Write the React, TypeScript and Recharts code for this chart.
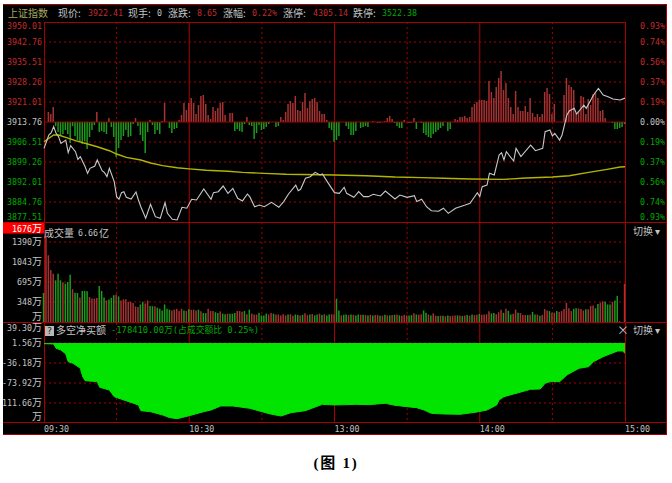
import { ComposedChart, Bar, Line, Area, Cell, XAxis, YAxis, ReferenceLine, CartesianGrid } from 'recharts';

// one trading day, in minutes from the 09:30 open (0..240)
const timeTicks = [0, 60, 120, 180, 240];
const timeLabels = ['09:30', '10:30', '13:00', '14:00', '15:00'];
const solidMinutes = [60, 120, 180];
const dottedMinutes = [30, 90, 150, 210];

const priceTicks = [3950.01, 3942.76, 3935.51, 3928.26, 3921.01, 3913.76, 3906.51, 3899.26, 3892.01, 3884.76, 3877.51];
const pctTicks = [0.93, 0.74, 0.56, 0.37, 0.19, 0, -0.19, -0.37, -0.56, -0.74, -0.93];

const priceMinutes = [0, 1, 2, 3, 4, 5, 6, 7, 9, 10, 11, 13, 14, 15, 17, 18, 19, 21, 22, 24, 25, 26, 27, 29, 30, 31, 32, 33, 34, 36, 38, 39, 40, 42, 44, 46, 48, 50, 51, 53, 55, 57, 59, 61, 63, 66, 69, 70, 72, 74, 76, 78, 80, 82, 84, 85, 87, 89, 91, 94, 97, 99, 101, 104, 105, 106, 108, 110, 112, 114, 115, 117, 120, 122, 124, 125, 128, 130, 132, 134, 136, 139, 141, 145, 147, 150, 153, 154, 156, 158, 160, 163, 165, 167, 170, 174, 176, 179, 180, 181, 183, 184, 186, 188, 189, 190, 191, 194, 195, 197, 201, 203, 206, 207, 209, 210, 211, 213, 214, 216, 217, 219, 220, 223, 224, 227, 229, 231, 233, 235, 238, 240];
const prices = [3904.2, 3906.6, 3909.05, 3909.9, 3912.1, 3909.65, 3908.45, 3906.0, 3907.2, 3902.65, 3905.2, 3903.0, 3900.2, 3901.2, 3897.55, 3895.15, 3896.95, 3897.8, 3900.0, 3896.1, 3895.4, 3893.95, 3896.95, 3892.15, 3886.7, 3885.75, 3888.15, 3888.5, 3886.45, 3885.85, 3888.4, 3885.5, 3883.05, 3878.85, 3883.9, 3879.45, 3878.85, 3884.5, 3880.65, 3878.5, 3878.25, 3882.85, 3882.5, 3885.75, 3885.5, 3889.5, 3885.75, 3888.15, 3888.5, 3890.55, 3887.9, 3889.7, 3886.1, 3885.15, 3887.65, 3886.7, 3883.05, 3883.65, 3883.05, 3884.65, 3882.85, 3884.9, 3887.65, 3890.9, 3888.85, 3889.35, 3893.35, 3893.95, 3895.5, 3894.55, 3894.9, 3892.15, 3888.15, 3887.9, 3890.1, 3887.9, 3886.45, 3888.5, 3886.7, 3886.7, 3887.55, 3886.95, 3888.75, 3885.85, 3887.3, 3886.45, 3887.05, 3884.9, 3885.75, 3883.05, 3881.6, 3881.4, 3882.5, 3880.65, 3882.5, 3883.65, 3884.3, 3888.15, 3886.7, 3890.3, 3890.9, 3895.15, 3894.55, 3901.8, 3902.65, 3900.0, 3903.0, 3899.6, 3904.2, 3901.2, 3905.4, 3903.35, 3904.2, 3910.25, 3910.85, 3908.7, 3909.65, 3907.2, 3909.05, 3916.3, 3917.75, 3918.7, 3916.65, 3919.9, 3918.7, 3923.55, 3925.95, 3923.55, 3922.95, 3922.1, 3921.75, 3922.41];

const avgMinutes = [0, 4, 6, 9, 13, 18, 22, 27, 30, 34, 40, 44, 49, 55, 60, 67, 76, 82, 91, 100, 120, 133, 145, 156, 165, 176, 190, 199, 210, 217, 225, 232, 238, 240];
const avgPrices = [3906.6, 3909.05, 3909.05, 3908.2, 3907.0, 3905.8, 3904.8, 3903.35, 3902.15, 3900.95, 3900.0, 3898.9, 3897.95, 3897.2, 3896.75, 3896.25, 3895.9, 3895.5, 3895.15, 3894.8, 3894.55, 3894.3, 3893.8, 3893.6, 3893.35, 3893.1, 3892.95, 3893.45, 3893.8, 3894.3, 3895.5, 3896.5, 3897.45, 3897.55];

// red/green histogram round the zero line, one bar a minute
const momentum = [
  0, 0, 10, 8, 15, -4, -10, -13, -12, -8,
  -12, -21, -4, -14, -18, -20, -22, -19, -27, -15,
  -8, -3, 10, -10, -9, -10, -12, 4, -5, -15,
  -35, -26, -18, -14, -8, -15, -14, -2, 4, -4,
  -13, -19, -31, -10, 2, -3, -12, -8, -12, 1,
  19, 0, -6, -11, -7, -6, 2, 7, 19, 12,
  19, 24, 19, 8, 17, 26, 27, 18, 7, 3,
  15, 11, 14, 19, 20, 7, 0, 9, 9, -9,
  -7, -9, -10, -2, 5, -3, -4, -17, -11, -3,
  -8, -7, -5, -2, 0, 0, -5, -4, 5, 2,
  10, 18, 21, 19, 26, 12, 11, 20, 29, 14,
  21, 23, 24, 20, 11, 8, 8, 2, -6, -8,
  -20, -18, -14, 0, 0, -4, -7, -13, -13, -9,
  0, -6, -5, -4, -5, 0, 1, 0, -1, -1,
  0, 1, 4, 6, 3, -1, -4, -6, -6, 2,
  0, -1, -1, 4, -7, 0, -1, -11, -13, -15,
  -16, -12, -10, -8, -6, -4, 0, -9, -7, 0,
  3, 2, 5, 5, 6, 4, 5, 15, 18, 20,
  22, 22, 22, 21, 41, 30, 24, 35, 44, 51,
  32, 39, 24, 15, 8, 31, 15, 11, 11, 16,
  10, 24, 9, 5, 8, 5, 8, 30, 34, 28,
  8, 18, 0, 0, 0, 27, 44, 37, 35, 32,
  9, 11, 26, 25, 8, 23, 17, 28, 29, 24,
  11, 12, 4, 0, 0, -1, -7, -7, -6, -5,
  -2,
];

const volumeTicks = [1676, 1390, 1043, 695, 348, 0];
const volumeLabels = ['1676', '1390', '1043', '695', '348', ''];
const volumes = [
  505, 1480, 1160, 905, 840, 725, 840, 725, 690, 665,
  695, 820, 570, 510, 505, 425, 540, 540, 535, 435,
  410, 405, 415, 625, 540, 425, 375, 390, 420, 465,
  480, 445, 375, 395, 395, 350, 350, 330, 270, 260,
  305, 350, 320, 375, 280, 275, 275, 250, 230, 200,
  305, 230, 215, 200, 215, 230, 190, 230, 200, 190,
  220, 215, 215, 200, 215, 185, 155, 155, 230, 190,
  190, 170, 155, 185, 145, 135, 145, 145, 145, 155,
  190, 190, 180, 190, 135, 215, 145, 130, 130, 160,
  115, 115, 145, 130, 155, 145, 130, 130, 115, 135,
  115, 130, 135, 110, 130, 125, 115, 125, 150, 120,
  130, 140, 115, 130, 145, 120, 135, 115, 130, 135,
  130, 405, 200, 115, 125, 130, 120, 130, 125, 115,
  130, 125, 125, 120, 115, 125, 115, 120, 125, 110,
  110, 125, 115, 115, 120, 125, 130, 115, 110, 120,
  115, 115, 120, 150, 130, 125, 135, 200, 160, 130,
  115, 150, 110, 105, 110, 110, 100, 115, 105, 110,
  115, 115, 115, 105, 115, 120, 110, 130, 120, 125,
  140, 125, 130, 135, 185, 150, 155, 135, 170, 215,
  160, 230, 195, 130, 145, 215, 160, 155, 120, 120,
  120, 125, 175, 130, 130, 110, 120, 225, 200, 190,
  160, 160, 190, 175, 190, 225, 330, 240, 190, 230,
  240, 235, 225, 200, 220, 220, 280, 285, 240, 315,
  335, 360, 350, 305, 305, 350, 375, 455, 15, 0,
  665,
];
const volumeSides =
  'grrrrgggrg' + 'ggrggrgggr' + 'rrrgggrggg' + 'rgrrrrrrrr' + 'ggrrggrggg' +
  'gggrrrrrgr' + 'grrrgrggrr' + 'rggrggrggg' + 'rrrgrgrrrg' + 'gggrrgrrrr' +
  'rgrrggrgrr' + 'grggrgrggr' + 'rggrggrgrg' + 'grgrgrgrrg' + 'rgrgrgrgrr' +
  'rggrgrrggr' + 'grrgrgrgrr' + 'rgrgrgrgrr' + 'grrrrggrrr' + 'grggrrgrrr' +
  'grggrgrrrg' + 'rrgrrrrrrg' + 'grrrgrrrgg' + 'rrgggrggrr' + 'r';

const netBuyTicks = [39.3, 1.56, -36.18, -73.92, -111.66, -149.4];
const netBuyLabels = ['39.30', '1.56', '-36.18', '-73.92', '111.66', ''];
const netBuyMinutes = [0, 4, 5, 7, 9, 10, 12, 15, 16, 17, 22, 23, 27, 29, 33, 39, 40, 44, 49, 52, 55, 60, 66, 69, 73, 78, 85, 90, 94, 98, 102, 108, 115, 120, 129, 134, 141, 145, 150, 154, 157, 160, 165, 172, 179, 183, 187, 188, 190, 194, 201, 205, 207, 209, 213, 216, 221, 225, 227, 231, 237, 239, 240];
const netBuy = [0.3, -0.3, -8.5, -11.65, -19.2, -33.7, -36.8, -46.2, -62, -69.5, -71.4, -82.1, -87.1, -99.7, -106, -115.4, -126.1, -128, -134.3, -139.3, -141.2, -135.6, -128, -124.9, -117.3, -117.3, -121.7, -128, -133, -136.2, -129.9, -126.1, -114.2, -115.4, -114.2, -114.8, -112.3, -116.1, -118.6, -120.5, -124.9, -131.2, -132.4, -133, -128.6, -124.9, -115.4, -106, -99.7, -94.7, -85.9, -85.2, -74.5, -71.4, -71.4, -58.8, -46.2, -43.1, -33.7, -24.2, -13.5, -13.5, -18];

const priceBase = 3913.76;
const GRID = '#a80000';
const GREY = '#c4c4c4';
const RED_TEXT = '#c42a2a';
const GREEN_TEXT = '#00a800';
const RED_BAR = '#a83232';
const GREEN_BAR = '#1c9a1c';
const AREA_GREEN = '#00e400';
const NUM_FONT = '"DejaVu Sans Mono", "Noto Sans CJK SC", monospace';
const CJK_FONT = '"Noto Sans CJK SC", sans-serif';
const NUM_SIZE = 8.3;
const LABEL_RIGHT = 42;

const topRows = momentum.map((value, minute) => {
  const pi = priceMinutes.indexOf(minute);
  const ai = avgMinutes.indexOf(minute);
  return {
    minute,
    momentum: value,
    price: pi >= 0 ? prices[pi] : null,
    avg: ai >= 0 ? avgPrices[ai] : null,
    // the right axis needs a series of its own or recharts leaves it without a scale
    pct: pi >= 0 ? ((prices[pi] - priceBase) / priceBase) * 100 : null,
  };
});
const volumeRows = volumes.map((volume, minute) => ({ minute, volume }));
const netBuyRows = netBuyMinutes.map((minute, i) => ({ minute, value: netBuy[i] }));

function edgeShift(index: number, count: number) {
  if (index === 0) return 7;
  if (index === count - 1) return -2;
  return 3;
}

function PriceTick({ y, payload, index }: any) {
  const v = payload.value;
  const fill = v > priceBase ? RED_TEXT : v < priceBase ? GREEN_TEXT : GREY;
  return (
    <text x={LABEL_RIGHT} y={y + edgeShift(index, priceTicks.length)} textAnchor="end" fontSize={NUM_SIZE} fontFamily={NUM_FONT} fill={fill}>
      {v.toFixed(2)}
    </text>
  );
}

function PctTick({ y, payload, index }: any) {
  const v = payload.value;
  const fill = v > 0 ? RED_TEXT : v < 0 ? GREEN_TEXT : GREY;
  return (
    <text x={640} y={y + edgeShift(index, pctTicks.length)} fontSize={NUM_SIZE} fontFamily={NUM_FONT} fill={fill}>
      {Math.abs(v).toFixed(2)}%
    </text>
  );
}

// number in the mono face, the unit in a slightly larger CJK size
function UnitLabel({ y, label, fill }: any) {
  return (
    <text x={LABEL_RIGHT} y={y} textAnchor="end" fontSize={NUM_SIZE} fontFamily={NUM_FONT} fill={fill}>
      {label}<tspan fontSize={10} fontFamily={CJK_FONT}>万</tspan>
    </text>
  );
}

function VolumeTick({ y, payload, index }: any) {
  const label = volumeLabels[index];
  if (payload.value === 1676) {
    return (
      <g>
        <rect x={3} y={y - 3} width={41} height={11} fill="#ff0000" />
        <UnitLabel y={y + 6} label={label} fill="#ffffff" />
      </g>
    );
  }
  return <UnitLabel y={y + (payload.value === 0 ? -2 : 3)} label={label} fill={GREY} />;
}

function NetBuyTick({ y, index }: any) {
  const shift = index === 0 ? 8 : index === netBuyTicks.length - 1 ? -3 : 3;
  return <UnitLabel y={y + shift} label={netBuyLabels[index]} fill={GREY} />;
}

function TimeTick({ x, index }: any) {
  return (
    <text x={x} y={108.5} fontSize={NUM_SIZE} fontFamily={NUM_FONT} fill={GREY}>{timeLabels[index]}</text>
  );
}

// CartesianGrid stays behind the series, so the green area hides it like in the original
function minuteGrid(yAxisId: string) {
  return [
    <CartesianGrid key="dotted" yAxisId={yAxisId} horizontal={false} verticalValues={dottedMinutes} stroke={GRID} strokeDasharray="2 3" />,
    <CartesianGrid key="solid" yAxisId={yAxisId} horizontal={false} verticalValues={solidMinutes} stroke={GRID} />,
  ];
}

function HeaderText({ x, y, color, children, size = 10, mono = false }: any) {
  return (
    <div style={{ position: 'absolute', left: x, top: y - 7, height: 14, lineHeight: '14px', fontSize: size, fontFamily: mono ? NUM_FONT : CJK_FONT, color, whiteSpace: 'nowrap' }}>
      {children}
    </div>
  );
}

function Rule({ x, y, w, h }: any) {
  return <div style={{ position: 'absolute', left: x, top: y, width: w, height: h, background: GRID }} />;
}

const headerItems = [
  { x: 8, text: '上证指数', color: '#a8a860' },
  { x: 58, text: '现价:', color: GREY },
  { x: 88, text: '3922.41', color: RED_TEXT, mono: true },
  { x: 128, text: '现手:', color: GREY },
  { x: 157, text: '0', color: GREY, mono: true },
  { x: 168, text: '涨跌:', color: GREY },
  { x: 197, text: '8.65', color: RED_TEXT, mono: true },
  { x: 223, text: '涨幅:', color: GREY },
  { x: 252, text: '0.22%', color: RED_TEXT, mono: true },
  { x: 283, text: '涨停:', color: GREY },
  { x: 313, text: '4305.14', color: RED_TEXT, mono: true },
  { x: 353, text: '跌停:', color: GREY },
  { x: 382, text: '3522.38', color: GREEN_TEXT, mono: true },
];

export default function App() {
  return (
    <div style={{ position: 'absolute', left: 0, top: 0, width: 672, height: 483, background: '#fff', overflow: 'hidden' }}>
      <div style={{ position: 'absolute', left: 3, top: 4, width: 664, height: 431, background: '#000' }} />
      <Rule x={3} y={4} w={664} h={1} />
      <Rule x={3} y={434} w={664} h={1} />
      <Rule x={666} y={4} w={1} h={431} />
      <Rule x={44} y={22} w={581} h={1} />
      <Rule x={3} y={222} w={664} h={1} />
      <Rule x={3} y={322} w={664} h={1} />
      <Rule x={3} y={422} w={664} h={1} />
      <Rule x={44} y={22} w={1} h={400} />
      <Rule x={625} y={22} w={1} h={400} />

      <div style={{ position: 'absolute', left: 0, top: 22 }}>
        <ComposedChart width={672} height={200} data={topRows} margin={{ top: 0, right: 0, bottom: 0, left: 0 }}>
          <XAxis dataKey="minute" type="number" domain={[0, 240]} hide />
          <YAxis yAxisId="price" width={44} domain={[3877.51, 3950.01]} ticks={priceTicks} interval={0} axisLine={false} tickLine={false} tick={<PriceTick />} />
          <YAxis yAxisId="pct" orientation="right" width={47} domain={[-0.93, 0.93]} ticks={pctTicks} interval={0} axisLine={false} tickLine={false} tick={<PctTick />} />
          <YAxis yAxisId="momentum" hide domain={[-100, 100]} />
          {minuteGrid('price')}
          <CartesianGrid yAxisId="price" vertical={false} horizontalValues={priceTicks.slice(1, 5).concat(priceTicks.slice(6, 10))} stroke={GRID} strokeDasharray="2 3" />
          <ReferenceLine y={priceBase} yAxisId="price" stroke={GRID} />
          <Bar yAxisId="momentum" dataKey="momentum" barSize={1.5} isAnimationActive={false}>
            {momentum.map((value, i) => <Cell key={i} fill={value >= 0 ? RED_BAR : GREEN_BAR} />)}
          </Bar>
          <Line yAxisId="pct" dataKey="pct" stroke="none" dot={false} connectNulls isAnimationActive={false} />
          <Line yAxisId="price" dataKey="avg" stroke="#b4b400" strokeWidth={1.4} dot={false} connectNulls isAnimationActive={false} />
          <Line yAxisId="price" dataKey="price" stroke="#c8c8c8" strokeWidth={1.1} dot={false} connectNulls isAnimationActive={false} />
        </ComposedChart>
      </div>

      <div style={{ position: 'absolute', left: 0, top: 222 }}>
        <ComposedChart width={672} height={100} data={volumeRows} margin={{ top: 0, right: 47, bottom: 0, left: 0 }}>
          <XAxis dataKey="minute" type="number" domain={[0, 240]} hide />
          <YAxis yAxisId="volume" width={44} domain={[0, 1738]} ticks={volumeTicks} interval={0} axisLine={false} tickLine={false} tick={<VolumeTick />} />
          {minuteGrid('volume')}
          <CartesianGrid yAxisId="volume" vertical={false} horizontalValues={volumeTicks.slice(1, 5)} stroke={GRID} strokeDasharray="2 3" />
          <Bar yAxisId="volume" dataKey="volume" barSize={1.5} isAnimationActive={false}>
            {volumes.map((_, i) => <Cell key={i} fill={volumeSides[i] === 'r' ? RED_BAR : GREEN_BAR} />)}
          </Bar>
        </ComposedChart>
      </div>

      <div style={{ position: 'absolute', left: 0, top: 322.5 }}>
        <ComposedChart width={672} height={114} data={netBuyRows} margin={{ top: 0, right: 47, bottom: 0, left: 0 }}>
          <XAxis dataKey="minute" type="number" domain={[0, 240]} ticks={timeTicks} interval={0} height={14} axisLine={false} tickLine={false} tick={<TimeTick />} />
          <YAxis yAxisId="net" width={44} domain={[-149.4, 39.3]} ticks={netBuyTicks} interval={0} axisLine={false} tickLine={false} tick={<NetBuyTick />} />
          {minuteGrid('net')}
          <CartesianGrid yAxisId="net" vertical={false} horizontalValues={netBuyTicks.slice(1, 5)} stroke={GRID} strokeDasharray="2 3" />
          <Area yAxisId="net" dataKey="value" baseValue={1.56} stroke={AREA_GREEN} fill={AREA_GREEN} fillOpacity={1} isAnimationActive={false} />
        </ComposedChart>
      </div>

      {headerItems.map(item => (
        <HeaderText key={item.x} x={item.x} y={13} color={item.color} mono={item.mono} size={item.mono ? NUM_SIZE : 10}>{item.text}</HeaderText>
      ))}
      <HeaderText x={44} y={233} color={GREY}>成交量</HeaderText>
      <HeaderText x={78} y={233} color={GREY} mono size={NUM_SIZE}>6.66</HeaderText>
      <HeaderText x={99} y={233} color={GREY}>亿</HeaderText>
      <HeaderText x={633} y={231} color={GREY}>切换 ▾</HeaderText>
      <HeaderText x={633} y={330} color={GREY}>切换 ▾</HeaderText>
      <HeaderText x={617} y={330} color={GREY} size={12}>×</HeaderText>
      <div style={{ position: 'absolute', left: 45, top: 326, width: 9, height: 10, background: '#b8b8b8', color: '#222', fontSize: 9, lineHeight: '10px', textAlign: 'center', fontFamily: NUM_FONT }}>?</div>
      <HeaderText x={56} y={330} color={GREY}>多空净买额</HeaderText>
      <HeaderText x={111} y={330} color={GREEN_TEXT} mono size={8.8}>-178410.00万(占成交额比 0.25%)</HeaderText>

      <div style={{ position: 'absolute', left: 300, top: 453, width: 72, textAlign: 'center', fontSize: 15, letterSpacing: 1.8, lineHeight: '20px', fontWeight: 'bold', color: '#000', fontFamily: '"Liberation Serif", "Noto Sans CJK SC", serif' }}>(图 1)</div>
    </div>
  );
}
